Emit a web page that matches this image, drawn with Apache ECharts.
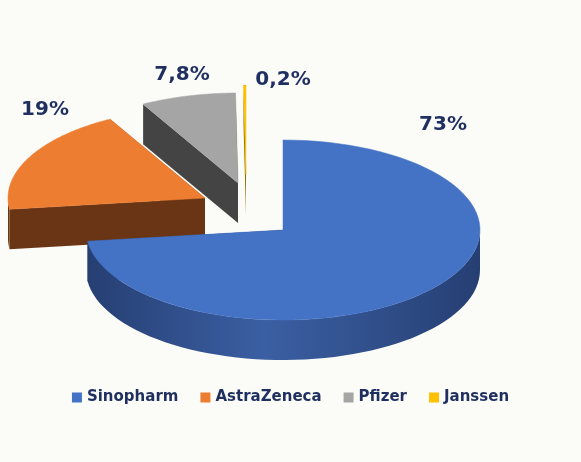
<!DOCTYPE html>
<html><head><meta charset="utf-8">
<script src="https://cdn.jsdelivr.net/npm/echarts@6/dist/echarts.min.js"></script>
<style>html,body{margin:0;background:#fbfcf7}#c{width:581px;height:462px}</style>
</head><body><div id="c"></div>
<script>
var names = ['Sinopharm','AstraZeneca','Pfizer','Janssen'];
var values = [73, 19, 7.8, 0.2];
var labels = ['73%','19%','7,8%','0,2%'];
var topColors = ['#4472C4','#ED7D31','#A5A5A5','#FFC000'];
var sideColors = ['#263f73','#6a3515','#444444','#8a6a00'];
// layout
var cx = 283, cy = 230, rx = 197, ry = 90, depth = 40;
var offsets = [[0,0],[-78,-32],[-45,-47],[-37,-55]];
var labelPos = [[443,125],[45,110],[182,75],[283,80]];

var total = values.reduce(function(a,b){return a+b;},0);
var starts = [], acc = 0;
values.forEach(function(v){ starts.push(acc/total*Math.PI*2); acc += v; });

function pt(ox,oy,t,dz){ return [cx+ox+rx*Math.sin(t), cy+oy-ry*Math.cos(t)+(dz||0)]; }

function makeRender(i){
  return function(params, api){
    var a = starts[i], b = a + values[i]/total*Math.PI*2;
    var ox = offsets[i][0], oy = offsets[i][1];
    var c0 = [cx+ox, cy+oy], c1 = [cx+ox, cy+oy+depth];
    var kids = [];
    [a,b].forEach(function(t){
      var p = pt(ox,oy,t), q = pt(ox,oy,t,depth);
      kids.push({type:'polygon', shape:{points:[c0,p,q,c1]}, style:{fill:sideColors[i]}});
    });
    // front wall
    var lo = Math.max(a, Math.PI/2), hi = Math.min(b, Math.PI*1.5);
    if (hi > lo) {
      var up = [], dn = [], n = 60;
      for (var k=0;k<=n;k++){ var t = lo+(hi-lo)*k/n; up.push(pt(ox,oy,t)); dn.unshift(pt(ox,oy,t,depth)); }
      kids.push({type:'polygon', shape:{points:up.concat(dn)},
        style:{fill:new echarts.graphic.LinearGradient(0,0,1,0,[
          {offset:0,color:sideColors[i]},{offset:0.45,color:i===0?'#3b5fa3':sideColors[i]},{offset:1,color:sideColors[i]}])}});
    }
    var top = [c0], m = 80;
    for (var j=0;j<=m;j++) top.push(pt(ox,oy,a+(b-a)*j/m));
    kids.push({type:'polygon', shape:{points:top}, style:{fill:topColors[i], stroke:topColors[i], lineWidth:0.5}});
    kids.push({type:'text', x:labelPos[i][0], y:labelPos[i][1],
      style:{text:labels[i], fill:'#1f2f5f', font:'bold 20px "DejaVu Sans", sans-serif', align:'center', verticalAlign:'middle'}});
    return {type:'group', children:kids};
  };
}

var series = [];
var zs = [4,3,2,1];
for (var i=0;i<names.length;i++){
  series.push({type:'custom', name:names[i], coordinateSystem:'none', z:zs[i],
    itemStyle:{color:topColors[i]}, data:[values[i]], renderItem:makeRender(i)});
}
var chart = echarts.init(document.getElementById('c'));
chart.setOption({
  animation:false,
  legend:{bottom:52, left:'center', icon:'rect', itemWidth:10, itemHeight:10, itemGap:22,
    textStyle:{color:'#1f2f5f', fontWeight:'bold', fontSize:15, fontFamily:'DejaVu Sans'}, data:names},
  series:series
});
</script></body></html>
